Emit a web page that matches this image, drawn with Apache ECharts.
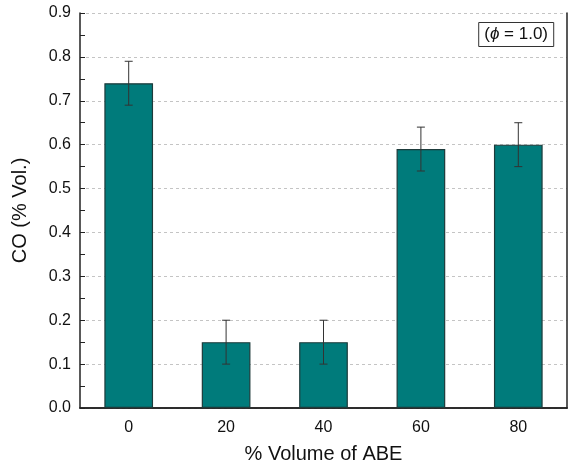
<!DOCTYPE html>
<html>
<head>
<meta charset="utf-8">
<script src="https://cdn.jsdelivr.net/npm/echarts@6/dist/echarts.min.js"></script>
<style>
  html, body { margin: 0; padding: 0; background: #fff; }
  #chart { width: 573px; height: 467px; }
</style>
</head>
<body>
<div id="chart"></div>
<script>
// data
var categories = ['0', '20', '40', '60', '80']
var coValues = [0.74, 0.15, 0.15, 0.59, 0.60]
var coErrors = [0.05, 0.05, 0.05, 0.05, 0.05]
var yTicks = { min: 0, max: 0.9, interval: 0.1 }

var font = 'Liberation Sans, Arial, sans-serif'
var chart = echarts.init(document.getElementById('chart'))

var option = {
    animation: false,
    textStyle: { fontFamily: font },
    title: {
        text: '({i|\u03d5} = 1.0)',
        right: 19,
        top: 22,
        padding: [4, 6, 4, 6],
        borderColor: '#333',
        borderWidth: 1,
        textStyle: {
            fontSize: 17,
            fontWeight: 'normal',
            color: '#111',
            fontFamily: font,
            rich: {
                i: { fontStyle: 'italic', fontSize: 17, color: '#111', fontFamily: font }
            }
        }
    },
    grid: { left: 80, right: 6, top: 13, bottom: 59, outerBoundsMode: 'none' },
    xAxis: [{
        type: 'category',
        data: categories,
        name: '% Volume of ABE',
        nameLocation: 'middle',
        nameGap: 36,
        nameTextStyle: { fontSize: 20, color: '#111' },
        axisLine: { lineStyle: { color: '#222', width: 1.5 } },
        axisTick: { show: false },
        axisLabel: { fontSize: 16, color: '#111', margin: 12 }
    }, {
        type: 'category',
        data: categories,
        position: 'top',
        axisLine: { lineStyle: { color: '#222', width: 1.5 } },
        axisTick: { show: false },
        axisLabel: { show: false }
    }],
    yAxis: [{
        type: 'value',
        min: yTicks.min,
        max: yTicks.max,
        interval: yTicks.interval,
        name: 'CO (% Vol.)',
        nameLocation: 'middle',
        nameGap: 50,
        nameTextStyle: { fontSize: 20, color: '#111' },
        axisLine: { show: true, lineStyle: { color: '#222', width: 1.5 } },
        axisTick: { show: true, inside: true, length: 5, lineStyle: { color: '#222' } },
        minorTick: { show: true, splitNumber: 2, length: 5, lineStyle: { color: '#222' } },
        axisLabel: {
            fontSize: 16, color: '#111', margin: 9,
            formatter: function (v) { return v.toFixed(1) }
        },
        splitLine: { show: true, lineStyle: { color: '#c4c4c4', type: [3, 3] } }
    }, {
        type: 'value',
        min: yTicks.min,
        max: yTicks.max,
        interval: yTicks.interval,
        position: 'right',
        axisLine: { show: true, lineStyle: { color: '#222', width: 1.5 } },
        axisTick: { show: false },
        axisLabel: { show: false },
        splitLine: { show: false }
    }],
    series: [{
        type: 'bar',
        data: coValues,
        barWidth: '50%',
        itemStyle: { color: '#007b7b', borderColor: '#1d3b3b', borderWidth: 1.2 },
        z: 2
    }, {
        type: 'custom',
        data: coValues.map(function (v, i) { return [i, v - coErrors[i], v + coErrors[i]] }),
        renderItem: function (params, api) {
            var lo = api.coord([api.value(0), api.value(1)])
            var hi = api.coord([api.value(0), api.value(2)])
            var w = 4
            var st = { stroke: '#333', lineWidth: 1 }
            return {
                type: 'group',
                children: [
                    { type: 'line', shape: { x1: lo[0], y1: lo[1], x2: hi[0], y2: hi[1] }, style: st },
                    { type: 'line', shape: { x1: lo[0] - w, y1: lo[1], x2: lo[0] + w, y2: lo[1] }, style: st },
                    { type: 'line', shape: { x1: hi[0] - w, y1: hi[1], x2: hi[0] + w, y2: hi[1] }, style: st }
                ]
            }
        },
        z: 3
    }]
}
chart.setOption(option)
</script>
</body>
</html>
